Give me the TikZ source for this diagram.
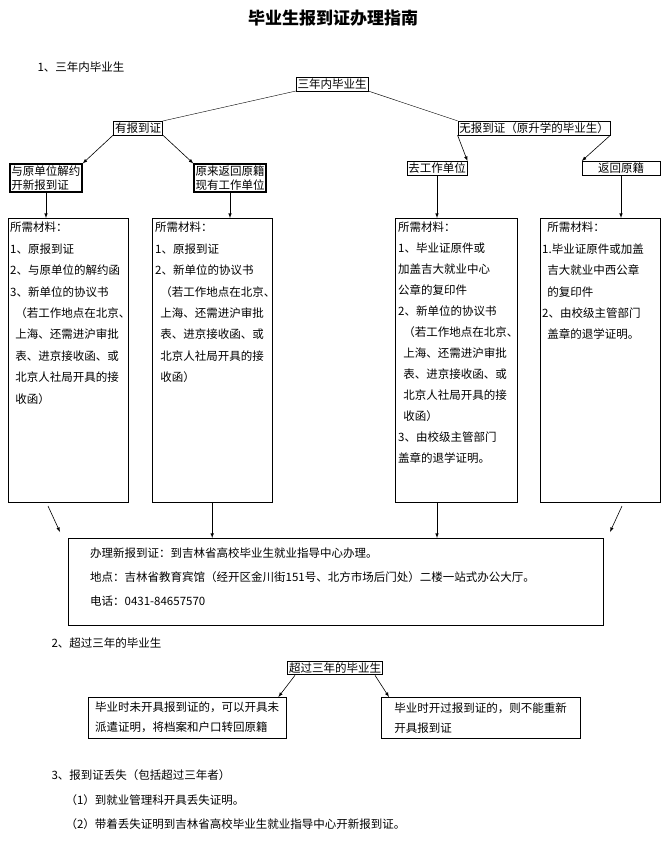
\documentclass[tikz,border=0pt]{standalone}
\usepackage{fontspec}
\setmainfont{Noto Sans CJK SC}
\usetikzlibrary{positioning}
\tikzset{
  box/.style={draw, inner sep=1.5pt, align=left, font=\fontsize{11.5}{14}\selectfont},
  thickbox/.style={box, line width=1.4pt},
  matbox/.style={draw, anchor=north west, inner sep=0pt},
  txt/.style={anchor=north west, align=left, inner sep=0pt, font=\fontsize{11.5}{21.4}\selectfont},
  arr/.style={-latex, line width=0.6pt}
}
\begin{document}
\begin{tikzpicture}[x=1pt,y=-1pt]
\useasboundingbox (0,0) rectangle (666,856);

\node[font=\fontsize{17}{20}\selectfont\bfseries] (title) at (333,18) {毕业生报到证办理指南};
\node[anchor=west, font=\fontsize{11.5}{14}\selectfont] (sec1) at (34,67) {1、三年内毕业生};

% tree
\node[box] (root) at (332,84) {三年内毕业生};
\node[box] (yes) at (138,128) {有报到证};
\node[box] (no) at (534,128) {无报到证（原升学的毕业生）};
\node[thickbox] (jieyue) at (46,178) {与原单位解约\\开新报到证};
\node[thickbox] (fanhui) at (230,178) {原来返回原籍\\现有工作单位};
\node[box] (gongzuo) at (437,168) {去工作单位};
\node[box, minimum width=78pt] (yuanji) at (621,168) {返回原籍};

\draw (root.south west) -- (yes.north east);
\draw (root.south east) -- (no.north west);
\draw[arr] (yes.south west) -- (jieyue.north east);
\draw[arr] (yes.south east) -- (fanhui.north west);
\draw[arr] (no.south west) -- (gongzuo.north east);
\draw[arr] (no.south east) -- (yuanji.north west);

% material boxes
\node[matbox, minimum width=120pt, minimum height=284pt] (mat1) at (8,218) {};
\node[matbox, minimum width=120pt, minimum height=284pt] (mat2) at (152,218) {};
\node[matbox, minimum width=122pt, minimum height=284pt] (mat3) at (395,218) {};
\node[matbox, minimum width=120pt, minimum height=284pt] (mat4) at (540,218) {};

\node[txt] (t1) at (10,222) {所需材料：\\1、原报到证\\2、与原单位的解约函\\3、新单位的协议书\\\ \ （若工作地点在北京、\\\ \ 上海、还需进沪审批\\\ \ 表、进京接收函、或\\\ \ 北京人社局开具的接\\\ \ 收函）};
\node[txt] (t2) at (155,222) {所需材料：\\1、原报到证\\2、新单位的协议书\\\ \ （若工作地点在北京、\\\ \ 上海、还需进沪审批\\\ \ 表、进京接收函、或\\\ \ 北京人社局开具的接\\\ \ 收函）};
\node[txt, font=\fontsize{11.5}{21}\selectfont] (t3) at (398,222) {所需材料：\\1、毕业证原件或\\加盖吉大就业中心\\公章的复印件\\2、新单位的协议书\\\ \ （若工作地点在北京、\\\ \ 上海、还需进沪审批\\\ \ 表、进京接收函、或\\\ \ 北京人社局开具的接\\\ \ 收函）\\3、由校级主管部门\\盖章的退学证明。};
\node[txt] (t4) at (542,222) {\ \ 所需材料：\\1.毕业证原件或加盖\\\ \ 吉大就业中西公章\\\ \ 的复印件\\2、由校级主管部门\\\ \ 盖章的退学证明。};

\draw[arr] (jieyue) -- (mat1.north -| jieyue);
\draw[arr] (fanhui) -- (mat2.north -| fanhui);
\draw[arr] (gongzuo) -- (mat3.north -| gongzuo);
\draw[arr] (yuanji) -- (mat4.north -| yuanji);

% office box
\node[matbox, minimum width=535pt, minimum height=87pt] (office) at (68,538) {};
\node[txt, font=\fontsize{11.5}{24}\selectfont] (otext) at (90,548) {办理新报到证：到吉林省高校毕业生就业指导中心办理。\\地点：吉林省教育宾馆（经开区金川街151号、北方市场后门处）二楼一站式办公大厅。\\电话：0431-84657570};

\coordinate (m1) at (48,506);
\coordinate (m4) at (622,506);
\draw[arr] (m1) -- (60,532);
\draw[arr] (mat2.south) -- (mat2.south |- office.north);
\draw[arr] (mat3.south -| gongzuo) -- (office.north -| gongzuo);
\draw[arr] (m4) -- (610,532);

% section 2
\node[anchor=west, font=\fontsize{11.5}{14}\selectfont] (sec2) at (48,643) {2、超过三年的毕业生};
\node[thickbox, line width=1pt] (over) at (335,668) {超过三年的毕业生};
\node[box, anchor=north west, minimum width=198pt, minimum height=41pt, font=\fontsize{11.5}{20}\selectfont] (left2) at (88,697) {毕业时未开具报到证的，可以开具未\\派遣证明，将档案和户口转回原籍};
\node[box, anchor=north west, minimum width=199pt, minimum height=41pt, font=\fontsize{11.5}{20}\selectfont] (right2) at (381,697) {毕业时开过报到证的，则不能重新\\开具报到证};
\draw[arr] ([xshift=8pt]over.south west) -- ([xshift=-8pt]left2.north east);
\draw[arr] ([xshift=-8pt]over.south east) -- ([xshift=8pt]right2.north west);

% section 3
\node[anchor=west, font=\fontsize{11.5}{14}\selectfont] (sec3) at (48,775) {3、报到证丢失（包括超过三年者）};
\node[anchor=west, font=\fontsize{11.5}{14}\selectfont] (lost1) at (62,800) {（1）到就业管理科开具丢失证明。};
\node[anchor=west, font=\fontsize{11.5}{14}\selectfont] (lost2) at (62,824) {（2）带着丢失证明到吉林省高校毕业生就业指导中心开新报到证。};
\end{tikzpicture}
\end{document}
